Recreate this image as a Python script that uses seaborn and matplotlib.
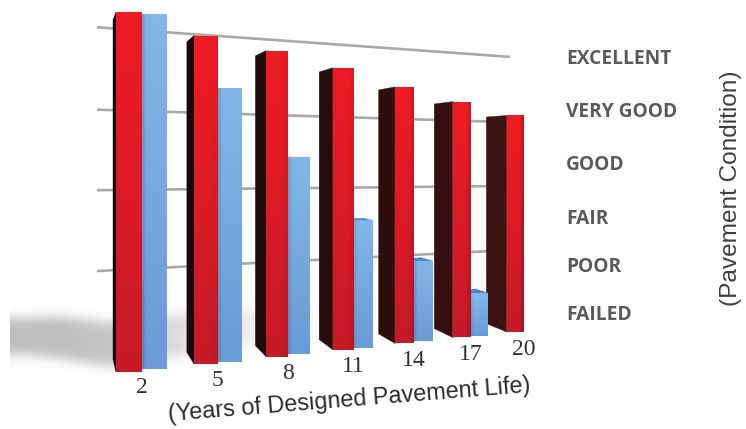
import numpy as np
import pandas as pd
import matplotlib
matplotlib.use("Agg")
import matplotlib.pyplot as plt
from matplotlib.colors import to_rgb
from matplotlib.patches import Polygon
from matplotlib.transforms import Affine2D, Transform
import seaborn as sns

# Chart data
years = ["2", "5", "8", "11", "14", "17", "20"]
maintained = [100, 95, 92, 88, 83, 79, 75]
unmaintained = [100, 80, 60, 40, 26, 14, 0]
grid_levels = [100.8, 74.5, 48.8, 23]
condition_labels = ["EXCELLENT", "VERY GOOD", "GOOD", "FAIR", "POOR", "FAILED"]
condition_label_y = [59, 112, 165, 219, 267, 315]

W, H = 746, 429
BAR_SPAN = 0.64
SIDE_DEPTH = 1.0
TOP_DEPTH = 0.6
WALL_DEPTH = 2.6


def project(x, v, depth=0.0):
    """Perspective projection of (category position, value, depth) to pixels."""
    x, v, depth = np.asarray(x, float), np.asarray(v, float), np.asarray(depth, float)
    u = x + BAR_SPAN / 2
    w = 1 + 0.0412 * u + 0.06 * depth
    return (86.0 * u + 116 + 3.8 * depth) / w, (7.0 * u + 372 + 9.0 * depth - 3.6 * v) / w


class DepthProjection(Transform):
    input_dims = output_dims = 2

    def __init__(self, plane_depth=0.0):
        super().__init__()
        self.plane_depth = plane_depth

    def transform_non_affine(self, values):
        values = np.asarray(values, float)
        px, py = project(values[:, 0], values[:, 1], self.plane_depth)
        return np.column_stack([px, py])


sns.set_theme(style="white")
fig = plt.figure(figsize=(W / 100, H / 100), dpi=100, facecolor="white")
ax = fig.add_axes([0, 0, 1, 1])

# Pixel space with the origin at the top left, used by all perspective artists
pix = Affine2D().scale(1 / W, -1 / H).translate(0, 1) + fig.transFigure
front = DepthProjection(0.0) + pix
wall = DepthProjection(WALL_DEPTH) + pix

table = pd.DataFrame({
    "years": years * 2,
    "condition": maintained + unmaintained,
    "series": ["maintained"] * len(years) + ["unmaintained"] * len(years),
})
sns.barplot(data=table, x="years", y="condition", hue="series", order=years,
            palette=["#e01b24", "#76a8e0"], width=BAR_SPAN, gap=0, dodge=True,
            saturation=1, legend=False, errorbar=None, linewidth=0, ax=ax)


def gradient(top, bottom, left_gain=1.0, right_gain=1.0):
    rows = np.linspace(0, 1, 48)[:, None, None]
    cols = np.interp(np.linspace(0, 1, 24), [0, 0.18, 0.7, 1],
                     [left_gain, 1, 1, right_gain])[None, :, None]
    colors = np.array(to_rgb(top)) * (1 - rows) + np.array(to_rgb(bottom)) * rows
    return np.clip(colors * cols, 0, 1)


def paint_front(bar, image, z):
    bar.set_transform(front)
    bar.set_zorder(z)
    x0, w, y0, h = bar.get_x(), bar.get_width(), bar.get_y(), bar.get_height()
    px, py = project([x0, x0, x0 + w, x0 + w], [y0, y0 + h, y0, y0 + h])
    shade = ax.imshow(image, extent=(px.min(), px.max(), py.max(), py.min()),
                      transform=pix, aspect="auto", zorder=z + 0.1, interpolation="bilinear")
    shade.set_clip_path(bar)


def face(corners, color, z):
    xs_, vs_, ds_ = zip(*corners)
    px, py = project(xs_, vs_, ds_)
    ax.add_patch(Polygon(np.column_stack([px, py]), closed=True, facecolor=color,
                         edgecolor=color, linewidth=0.3, transform=pix, zorder=z))


red_bars, blue_bars = ax.containers[0], ax.containers[1]
side_dark, side_warm = np.array(to_rgb("#100808")), np.array(to_rgb("#3a1210"))
for i, (red, blue) in enumerate(zip(red_bars, blue_bars)):
    z = 100 - 10 * i
    share = i / (len(years) - 1)
    if unmaintained[i] > 0:
        x0, w, v = blue.get_x(), blue.get_width(), blue.get_height()
        face([(x0, v, 0), (x0 + w, v, 0), (x0 + w, v, TOP_DEPTH), (x0, v, TOP_DEPTH)],
             "#4f82cc", z + 1)
        paint_front(blue, gradient("#82b6e8", "#6b9bd8", left_gain=0.86), z + 2)
    else:
        blue.set_visible(False)
    x0, v = red.get_x(), red.get_height()
    face([(x0, 0, 0), (x0, v, 0), (x0, v, SIDE_DEPTH), (x0, 0, SIDE_DEPTH)],
         tuple(side_dark * (1 - share) + side_warm * share), z + 3)
    paint_front(red, gradient("#f01c24", "#c61a28", right_gain=1 - 0.17 * share), z + 4)

# Back wall gridlines
for level in grid_levels:
    ax.plot([-0.488, 6.81], [level, level], color="#a9a9a9", lw=1.9,
            solid_capstyle="butt", transform=wall, zorder=5)

# Soft cast shadow on the floor, fading out to the right
xs = np.arange(W)
ys = np.arange(H)[:, None]
shadow_x = [10, 60, 110, 180, 250, 330]
top_edge = np.interp(xs, shadow_x, [318, 316, 322, 313, 308, 305])
bottom_edge = np.interp(xs, shadow_x, [352, 358, 366, 356, 345, 335])
strength = np.interp(xs, shadow_x, [0.34, 0.34, 0.30, 0.17, 0.09, 0.0])
alpha = ((ys >= top_edge) & (ys <= bottom_edge)) * strength
kernel = np.exp(-0.5 * (np.arange(-18, 19) / 5.5) ** 2)
kernel /= kernel.sum()
alpha = np.apply_along_axis(lambda col: np.convolve(col, kernel, mode="same"), 0, alpha)
alpha = np.apply_along_axis(lambda row: np.convolve(row, kernel, mode="same"), 1, alpha)
alpha[:, xs < 10] = 0
alpha[:, (xs >= 10) & (xs < 28)] = alpha[:, 28:29]
shadow = np.zeros((H, W, 4))
shadow[..., :3] = 0.25
shadow[..., 3] = alpha
ax.imshow(shadow, extent=(0, W, H, 0), transform=pix, aspect="auto", zorder=2)

# Category labels sit on the floor in front of each group
for i, label in enumerate(years):
    ax.text(i, -5.2 - 0.25 * i, label, transform=front, ha="center", va="center",
            family="Liberation Serif", fontsize=17, color="#333333", zorder=200)

ax.text(349, 400, "(Years of Designed Pavement Life)", transform=pix, rotation=4.6,
        rotation_mode="anchor", ha="center", va="center", family="Liberation Sans",
        fontsize=16.9, color="#2c2c2c", zorder=200)
ax.text(731, 188, "(Pavement Condition)", transform=pix, rotation=90, ha="center",
        va="center", family="Liberation Sans", fontsize=17.6, color="#3f3f3f", zorder=200)
for label, y in zip(condition_labels, condition_label_y):
    ax.text(566, y, label, transform=pix, ha="left", va="center", family="Open Sans",
            fontweight="bold", fontsize=13.8, color="#5a5a5a", zorder=200)

ax.set_xlim(-0.5, 6.5)
ax.set_ylim(0, 110)
ax.set_axis_off()
fig.savefig("out.png", dpi=100, facecolor="white")
